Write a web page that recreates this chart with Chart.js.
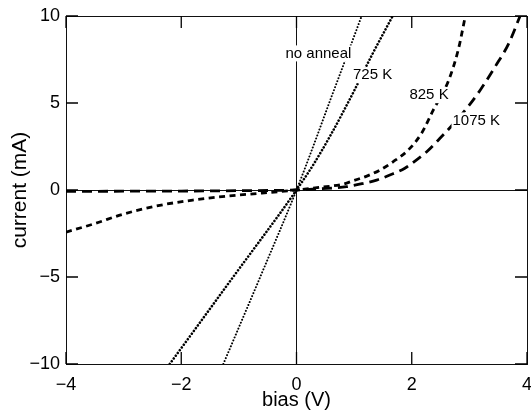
<!DOCTYPE html>
<html>
<head>
<meta charset="utf-8">
<script src="https://cdn.jsdelivr.net/npm/chart.js@4/dist/chart.umd.min.js"></script>
<style>
  html, body { margin: 0; padding: 0; background: #fff; }
  #wrap { width: 531px; height: 415px; }
</style>
</head>
<body>
<div id="wrap"><canvas id="ivChart" width="531" height="415"></canvas></div>
<script>
// bias (V) / current (mA)
const noAnnealV = [-1.27, -0.63, 0, 0.3, 0.6, 0.85, 1.13];
const noAnnealI = [-10, -5, 0, 2.6, 5.3, 7.5, 10];

const k725V = [-2.2, -1.1, 0, 0.3, 0.6, 1.0, 1.3, 1.67];
const k725I = [-10, -5, 0, 1.5, 3.2, 5.7, 7.7, 10];

const k825V = [-4, -3.5, -3, -2.4, -1.8, -1.2, -0.6, 0, 0.4, 0.81, 0.99, 1.22, 1.45, 1.68, 1.94, 2.17, 2.375, 2.64, 2.81, 2.93];
const k825I = [-2.42, -1.93, -1.38, -0.9, -0.58, -0.35, -0.18, 0, 0.15, 0.34, 0.54, 0.8, 1.15, 1.63, 2.3, 3.26, 4.6, 6.3, 8.1, 10];

const k1075V = [-4, -3, -2, -1, 0, 0.4, 0.87, 1.16, 1.39, 1.62, 1.88, 2.09, 2.26, 2.49, 2.75, 2.98, 3.19, 3.45, 3.68, 3.88];
const k1075I = [-0.08, -0.07, -0.06, -0.04, 0, 0.07, 0.19, 0.38, 0.57, 0.86, 1.25, 1.75, 2.2, 2.97, 3.9, 4.8, 5.75, 7.1, 8.4, 10];

const xTicks = [-4, -2, 0, 2, 4];
const yTicks = [-10, -5, 0, 5, 10];

// curve labels and where they sit (data units)
const curveLabels = ['no anneal', '725 K', '825 K', '1075 K'];
const curveLabelV = [0.38, 1.32, 2.3, 3.12];
const curveLabelI = [7.85, 6.6, 5.45, 4.0];

const FONT = '"Liberation Sans", Arial, Helvetica, sans-serif';
const TICK_LEN = 12;

function toPoints(xs, ys) {
  return xs.map((x, i) => ({ x: x, y: ys[i] }));
}

function fmt(v) {
  return v < 0 ? '\u2212' + Math.abs(v) : String(v);
}

// tick marks pointing into the plot, on all four sides
const innerTicks = {
  id: 'innerTicks',
  afterDraw(chart) {
    const ctx = chart.ctx;
    const a = chart.chartArea;
    const xs = chart.scales.x, ys = chart.scales.y;
    ctx.save();
    ctx.strokeStyle = '#000';
    ctx.lineWidth = 1.3;
    ctx.setLineDash([]);
    xTicks.forEach(v => {
      const px = xs.getPixelForValue(v);
      ctx.beginPath();
      ctx.moveTo(px, a.bottom);
      ctx.lineTo(px, a.bottom - TICK_LEN);
      ctx.moveTo(px, a.top);
      ctx.lineTo(px, a.top + TICK_LEN);
      ctx.stroke();
    });
    yTicks.forEach(v => {
      const py = ys.getPixelForValue(v);
      ctx.beginPath();
      ctx.moveTo(a.left, py);
      ctx.lineTo(a.left + TICK_LEN, py);
      ctx.moveTo(a.right, py);
      ctx.lineTo(a.right - TICK_LEN, py);
      ctx.stroke();
    });
    ctx.restore();
  }
};

// labels sit on a white patch that hides the curve under them
const curveText = {
  id: 'curveText',
  afterDatasetsDraw(chart) {
    const ctx = chart.ctx;
    const xs = chart.scales.x, ys = chart.scales.y;
    ctx.save();
    ctx.font = '15px ' + FONT;
    ctx.textAlign = 'center';
    ctx.textBaseline = 'middle';
    curveLabels.forEach((t, i) => {
      const px = xs.getPixelForValue(curveLabelV[i]);
      const py = ys.getPixelForValue(curveLabelI[i]);
      const w = ctx.measureText(t).width;
      ctx.fillStyle = '#fff';
      ctx.fillRect(px - w / 2 - 1, py - 8, w + 2, 16);
      ctx.fillStyle = '#000';
      ctx.fillText(t, px, py);
    });
    ctx.restore();
  }
};

const zeroOnly = ctx => (ctx.tick && ctx.tick.value === 0 ? '#111' : 'rgba(0,0,0,0)');

const data = {
  datasets: [
    {
      label: 'no anneal',
      data: toPoints(noAnnealV, noAnnealI),
      borderColor: '#000',
      borderWidth: 2.0,
      borderDash: [0.01, 3.2],
      borderCapStyle: 'round'
    },
    {
      label: '725 K',
      data: toPoints(k725V, k725I),
      borderColor: '#000',
      borderWidth: 2.6,
      borderDash: [0.01, 3.4],
      borderCapStyle: 'round'
    },
    {
      label: '825 K',
      data: toPoints(k825V, k825I),
      borderColor: '#000',
      borderWidth: 2.8,
      borderDash: [6, 4.5]
    },
    {
      label: '1075 K',
      data: toPoints(k1075V, k1075I),
      borderColor: '#000',
      borderWidth: 2.8,
      borderDash: [10, 6]
    }
  ]
};

const tickFont = { family: FONT, size: 18 };

const config = {
  type: 'scatter',
  data: data,
  options: {
    responsive: false,
    animation: false,
    showLine: true,
    elements: {
      point: { radius: 0, hoverRadius: 0 },
      line: { cubicInterpolationMode: 'monotone', fill: false }
    },
    layout: { padding: { top: 16, right: 4, left: 0, bottom: 0 } },
    plugins: { legend: { display: false }, tooltip: { enabled: false } },
    scales: {
      x: {
        type: 'linear',
        position: 'bottom',
        min: -4, max: 4,
        afterBuildTicks: s => { s.ticks = xTicks.map(v => ({ value: v })); },
        afterFit: s => { s.height = 51; s.paddingLeft = 0; s.paddingRight = 0; },
        ticks: { font: tickFont, color: '#000', padding: 10, maxRotation: 0, callback: fmt },
        grid: { color: zeroOnly, drawTicks: false, lineWidth: 1 },
        border: { display: true, color: '#111', width: 1 },
        title: { display: true, text: 'bias (V)', color: '#000', font: { family: FONT, size: 20 }, padding: { top: 0, bottom: 3 } }
      },
      y: {
        type: 'linear',
        position: 'left',
        min: -10, max: 10,
        afterBuildTicks: s => { s.ticks = yTicks.map(v => ({ value: v })); },
        afterFit: s => { s.width = 66; s.paddingTop = 0; s.paddingBottom = 0; },
        ticks: { font: tickFont, color: '#000', padding: 6, callback: fmt },
        grid: { color: zeroOnly, drawTicks: false, lineWidth: 1 },
        border: { display: true, color: '#111', width: 1 },
        title: { display: true, text: 'current (mA)', color: '#000', font: { family: FONT, size: 21 }, padding: { top: 8, bottom: 0 } }
      },
      x2: {
        type: 'linear',
        position: 'top',
        min: -4, max: 4,
        afterFit: s => { s.height = 0; s.paddingLeft = 0; s.paddingRight = 0; },
        ticks: { display: false },
        grid: { display: false },
        border: { display: true, color: '#111', width: 1 }
      },
      y2: {
        type: 'linear',
        position: 'right',
        min: -10, max: 10,
        afterFit: s => { s.width = 0; s.paddingTop = 0; s.paddingBottom = 0; },
        ticks: { display: false },
        grid: { display: false },
        border: { display: true, color: '#111', width: 1 }
      }
    }
  },
  plugins: [innerTicks, curveText]
};

new Chart(document.getElementById('ivChart').getContext('2d'), config);
</script>
</body>
</html>
